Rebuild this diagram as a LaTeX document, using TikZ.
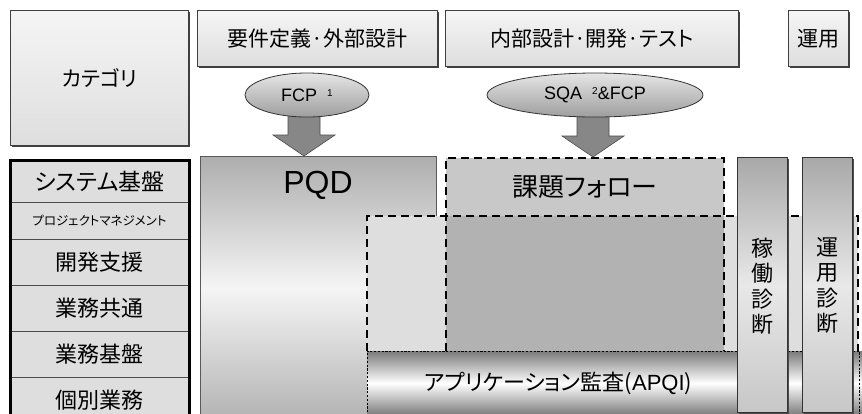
\documentclass[tikz,border=0pt]{standalone}
\usepackage{fontspec}
\setmainfont{Noto Sans CJK JP}[RawFeature={+palt}]
\newfontfamily\lat{Liberation Sans}
\usetikzlibrary{shadows,calc,shapes.geometric}
\definecolor{rowgray}{HTML}{DEDEDE}
\definecolor{kdark}{HTML}{B2B2B2}
\definecolor{kup}{HTML}{C8C8C8}
\begin{document}
\begin{tikzpicture}[x=1pt,y=-1pt,
  fs/.style={font=\fontsize{#1}{#1}\selectfont},
  topbox/.style={draw=black!75, line width=0.8pt, top color=white!96!black, bottom color=black!13,
    general shadow={fill=black!75, shadow xshift=1.6pt, shadow yshift=-1.6pt},
    inner sep=0pt, anchor=north west, fs=21},
  rowbox/.style={draw=black!70, line width=1pt, fill=rowgray, inner sep=0pt, anchor=north west,
    minimum width=178pt},
  oval/.style={ellipse, draw=black!80, line width=0.8pt, top color=black!10, bottom color=black!38,
    inner sep=0pt, minimum height=44pt, fs=18},
  blockarrow/.style={fill=black!47, draw=black!70, line width=0.6pt},
  bigdash/.style={dashed, dash pattern=on 8pt off 5pt, line width=1.8pt, draw=black},
  colbox/.style={draw=black!80, line width=0.9pt, top color=black!34, bottom color=black!22, middle color=black!9,
    general shadow={fill=black!70, shadow xshift=1.2pt, shadow yshift=-1.2pt},
    inner sep=0pt, anchor=north west, minimum width=50pt, minimum height=255pt},
  vtext/.style={align=center, font=\fontsize{22}{25.5}\selectfont}
]
\useasboundingbox[fill=white] (0,0) rectangle (862,413);

% header boxes
\node[topbox, minimum width=178pt, minimum height=135pt] (cat) at (10,10) {カテゴリ};
\node[topbox, minimum width=240pt, minimum height=56pt] (req) at (197,10) {要件定義·外部設計};
\node[topbox, minimum width=293pt, minimum height=56pt] (int) at (445,10) {内部設計·開発·テスト};
\node[topbox, minimum width=60pt, minimum height=56pt] (ops) at (788,10) {運用};

% left list
\node[rowbox, minimum height=42pt, fs=23] (r1) at (10,160) {システム基盤};
\node[rowbox, minimum height=37pt, fs=12.5] (r2) at (10,202) {プロジェクトマネジメント};
\node[rowbox, minimum height=46pt, fs=22] (r3) at (10,239) {開発支援};
\node[rowbox, minimum height=46pt, fs=22] (r4) at (10,285) {業務共通};
\node[rowbox, minimum height=46pt, fs=22] (r5) at (10,331) {業務基盤};
\node[rowbox, minimum height=46pt, fs=22] (r6) at (10,377) {個別業務};
\draw[line width=3pt, black] (r6.south west) -- (r1.north west) -- (r1.north east) -- (r6.south east);

% PQD
\node[anchor=north west, inner sep=0pt, minimum width=236pt, minimum height=264pt,
  draw=black!65, line width=0.9pt, top color=black!32, bottom color=black!30, middle color=black!4] (pqdbox) at (200,156) {};
\node[font=\lat\fontsize{32}{32}\selectfont] (pqd) at (318,185) {PQD};

% big dashed area
\path[fill=rowgray] (367,216) rectangle (858,351);
\path[fill=kdark] (446,216) rectangle (724,351);
\path[fill=kup] (446,158) rectangle (724,216);
\draw[bigdash] (367,351) -- (367,216) -- (858,216) -- (858,351);
\draw[bigdash] (446,351) -- (446,158) -- (724,158) -- (724,351);
\node[fs=26] (kadai) at (585,187) {課題フォロー};

% APQI bar
\node[anchor=north west, inner sep=0pt, minimum width=497pt, minimum height=64pt,
  top color=black!52, bottom color=black!52, middle color=white] (bar) at (367,351) {};
\draw[black, line width=0.6pt, dash pattern=on 2.2pt off 1.6pt] (367,420) -- (367,351) -- (859,351) -- (859,420);
\node[fs=22] (apqi) at (558,383) {アプリケーション監査({\lat APQI})};

% columns
\node[colbox] (c1) at (737,157) {};
\node[colbox] (c2) at (802,157) {};
\node[vtext, anchor=north] (v1) at ($(c1.north)+(0,77)$) {稼\\働\\診\\断};
\node[vtext, anchor=north] (v2) at ($(c2.north)+(0,77)$) {運\\用\\診\\断};

% block arrows
\coordinate (t1) at (304,156);
\coordinate (t2) at (593,157);
\foreach \t in {t1,t2}{
  \draw[blockarrow] ($(\t)+(-16,-44)$) -- ($(\t)+(16,-44)$) -- ($(\t)+(16,-21)$) -- ($(\t)+(31,-21)$)
    -- (\t) -- ($(\t)+(-31,-21)$) -- ($(\t)+(-16,-21)$) -- cycle;
}

% ovals
\node[oval, minimum width=124pt] (fcp) at (307,95) {{\lat FCP}\hspace{10pt}\raisebox{5pt}{\fontsize{10}{10}\selectfont\lat 1}\hspace{6pt}};
\node[oval, minimum width=216pt] (sqa) at (595,95) {{\lat SQA}\hspace{10pt}\raisebox{5pt}{\fontsize{10}{10}\selectfont\lat 2}{\lat\&FCP}};
\end{tikzpicture}
\end{document}
